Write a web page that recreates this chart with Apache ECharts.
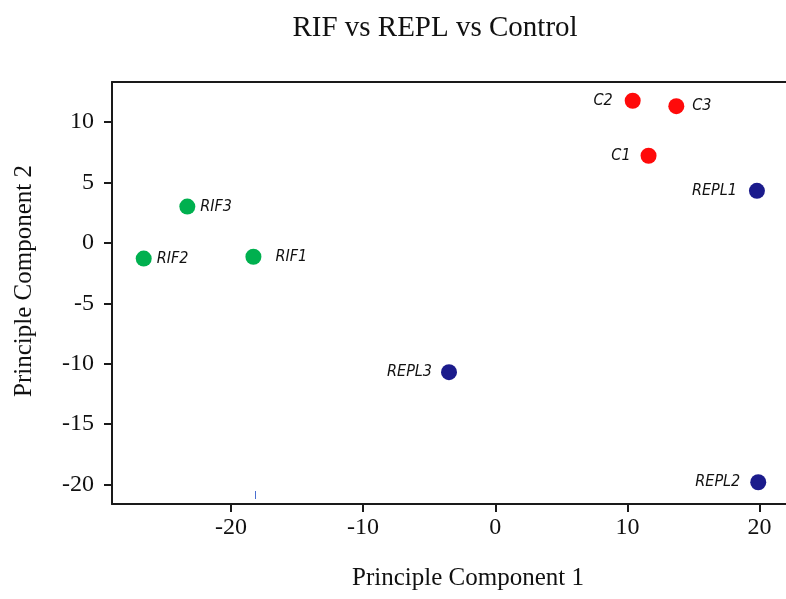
<!DOCTYPE html>
<html>
<head>
<meta charset="utf-8">
<script src="https://cdn.jsdelivr.net/npm/echarts@6/dist/echarts.min.js"></script>
<style>html,body{margin:0;padding:0;background:#fff}#c{width:786px;height:599px}</style>
</head>
<body>
<div id="c"></div>
<script>
// ---- data ----
var sampleNames = ['C1', 'C2', 'C3', 'REPL1', 'REPL2', 'REPL3', 'RIF1', 'RIF2', 'RIF3'];
var pc1 = [11.6, 10.4, 13.7, 19.8, 19.9, -3.5, -18.3, -26.6, -23.3];
var pc2 = [7.2, 11.75, 11.3, 4.3, -19.8, -10.7, -1.15, -1.3, 3.0];
var groups = ['Control', 'Control', 'Control', 'REPL', 'REPL', 'REPL', 'RIF', 'RIF', 'RIF'];
var groupNames = ['Control', 'REPL', 'RIF'];
var xTicks = [-20, -10, 0, 10, 20];
var yTicks = [-20, -15, -10, -5, 0, 5, 10];
var chartTitle = 'RIF vs REPL vs Control';
var xTitle = 'Principle Component 1';
var yTitle = 'Principle Component 2';

// ---- styles ----
var groupColors = {Control: '#ff0a0a', REPL: '#1b1b8c', RIF: '#00b04f'};
var labelSide = {
  C1: ['left', 10], C2: ['left', 12], C3: ['right', 8],
  REPL1: ['left', 12], REPL2: ['left', 10], REPL3: ['left', 9],
  RIF1: ['right', 14], RIF2: ['right', 5], RIF3: ['right', 5]
};
var serif = "'Liberation Serif', 'Times New Roman', serif";
var labelFont = "'DejaVu Sans Condensed', 'Liberation Sans', sans-serif";

var series = groupNames.map(function (g) {
  var data = [];
  sampleNames.forEach(function (n, i) {
    if (groups[i] !== g) return;
    data.push({
      name: n,
      value: [pc1[i], pc2[i]],
      label: {position: labelSide[n][0], distance: labelSide[n][1]}
    });
  });
  return {
    type: 'scatter', name: g, data: data, symbolSize: 16,
    itemStyle: {color: groupColors[g], opacity: 1},
    label: {
      show: true, formatter: '{b}', fontFamily: labelFont, fontStyle: 'italic',
      fontSize: 16, color: '#111'
    }
  };
});

var chart = echarts.init(document.getElementById('c'), null, {renderer: 'canvas'});
var axisLine = {show: true, onZero: false, lineStyle: {color: '#1a1a1a', width: 2}};
chart.setOption({
  animation: false,
  grid: {left: 112, right: 0, top: 82, bottom: 95, containLabel: false},
  xAxis: [{
    type: 'value', min: -29, max: 22, position: 'bottom',
    axisLine: axisLine,
    splitLine: {show: false},
    axisTick: {show: true, length: 8, lineStyle: {color: '#1a1a1a', width: 2}, customValues: xTicks},
    axisLabel: {customValues: xTicks, fontFamily: serif, fontSize: 24, color: '#111', margin: 12}
  }, {
    type: 'value', min: -29, max: 22, position: 'top',
    axisLine: axisLine, axisTick: {show: false}, axisLabel: {show: false}, splitLine: {show: false}
  }],
  yAxis: {
    type: 'value', min: -21.6, max: 13.3, position: 'left',
    axisLine: axisLine,
    splitLine: {show: false},
    axisTick: {show: true, length: 8, lineStyle: {color: '#1a1a1a', width: 2}, customValues: yTicks},
    axisLabel: {customValues: yTicks, fontFamily: serif, fontSize: 24, color: '#111', margin: 18}
  },
  series: series,
  graphic: [
    {type: 'text', x: 435, y: 28, style: {text: chartTitle, font: '29px ' + serif, fill: '#111', align: 'center', verticalAlign: 'middle'}},
    {type: 'text', x: 468, y: 578, style: {text: xTitle, font: '25px ' + serif, fill: '#111', align: 'center', verticalAlign: 'middle'}},
    {type: 'text', x: 24, y: 281, rotation: Math.PI / 2, style: {text: yTitle, font: '25px ' + serif, fill: '#111', align: 'center', verticalAlign: 'middle'}},
    {type: 'line', shape: {x1: 255.5, y1: 491, x2: 255.5, y2: 499}, style: {stroke: '#4a6fd0', lineWidth: 1}}
  ]
});
</script>
</body>
</html>
